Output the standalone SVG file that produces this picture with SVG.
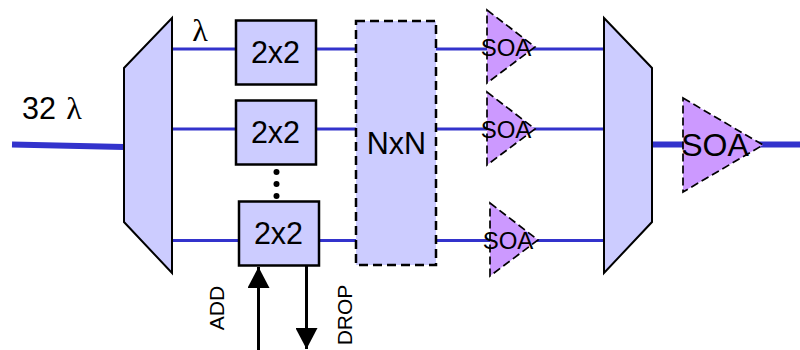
<svg xmlns="http://www.w3.org/2000/svg" width="800" height="350" viewBox="0 0 800 350">
<style>
.box{fill:#ccccff;stroke:#000;stroke-width:2.5}
.mux{fill:#ccccff;stroke:#000;stroke-width:2;stroke-linejoin:miter}
.soa{fill:#cc99ff;stroke:#000;stroke-width:1.7;stroke-dasharray:8 4}
.thin{stroke:#3333cc;stroke-width:3;fill:none}
.thick{stroke:#3333cc;stroke-width:6;fill:none}
.blk{stroke:#000;stroke-width:3;fill:none}
text{font-family:"Liberation Sans",Arial,sans-serif;fill:#000;text-anchor:middle}
.t{font-size:30.500px}
.s{font-size:24px}
.l{font-size:21px}
.g{font-family:"Liberation Serif","DejaVu Serif",serif}
</style>
<defs>
<marker id="ah" markerUnits="userSpaceOnUse" markerWidth="22" markerHeight="22" refX="21" refY="11" orient="auto"><path d="M0 0L21 11L0 22Z" fill="#000"/></marker>
</defs>
<g id="connectors">
<path class="thick" d="M12 144.500L124 147"/>
<path class="thin" d="M172 49H236M172 129H236M172 240.500H238"/>
<path class="thin" d="M316 49H356M316 129H356M319 240.500H356"/>
<path class="thin" d="M436 49H604M436 129H604M436 240.500H604"/>
<path class="thick" d="M652 144.500H800"/>
<path class="blk" d="M258.500 350V267" marker-end="url(#ah)"/>
<path class="blk" d="M306.500 266V349" marker-end="url(#ah)"/>
</g>
<g id="demux"><path class="mux" d="M124 68L172 18V273L124 222Z"/></g>
<g id="sw1"><rect class="box" x="236" y="20.500" width="80" height="64"/><text class="t" x="275.500" y="63">2x2</text></g>
<g id="sw2"><rect class="box" x="236" y="100.500" width="80" height="64"/><text class="t" x="275.500" y="143">2x2</text></g>
<g id="dots"><circle cx="276.500" cy="172" r="3"/><circle cx="276.500" cy="184" r="3"/><circle cx="276.500" cy="196" r="3"/></g>
<g id="sw3"><rect class="box" x="239" y="201.500" width="80" height="64"/><text class="t" x="278.500" y="244">2x2</text></g>
<g id="nxn"><rect x="356" y="21" width="80" height="244" fill="#ccccff" stroke="#000" stroke-width="2.500" stroke-dasharray="9 5"/><text class="t" x="396.500" y="154">NxN</text></g>
<g id="soa1"><path class="soa" d="M487 10L535 47L487 83Z"/><text class="s" x="506" y="56">SOA</text></g>
<g id="soa2"><path class="soa" d="M487 92L535 129L487 165Z"/><text class="s" x="506" y="138">SOA</text></g>
<g id="soa3"><path class="soa" d="M490 203L538 240L490 276Z"/><text class="s" x="508" y="249">SOA</text></g>
<g id="mux"><path class="mux" d="M604 18L652 68V222L604 273Z"/></g>
<g id="soa4"><path class="soa" d="M683 98L763 145L683 192Z"/><text x="715" y="156" font-size="32">SOA</text></g>
<g id="labels">
<text class="t" x="39" y="119">32</text>
<text class="g" x="74" y="119" font-size="32">λ</text>
<text class="g" x="200" y="41" font-size="32">λ</text>
<text class="l" transform="translate(224 308) rotate(-90)">ADD</text>
<text class="l" transform="translate(352 315) rotate(-90)">DROP</text>
</g>
</svg>
